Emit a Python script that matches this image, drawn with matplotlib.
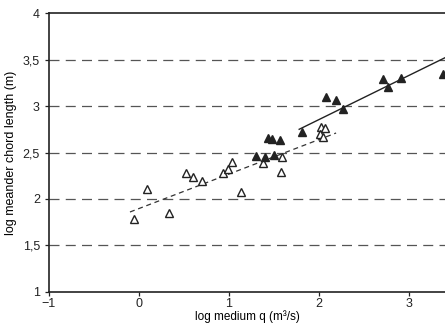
import matplotlib
matplotlib.use("Agg")
import matplotlib.pyplot as plt
import numpy as np
from matplotlib.ticker import FuncFormatter

plt.rcParams['font.family'] = ['Liberation Sans Narrow', 'Liberation Sans', 'DejaVu Sans']

# open triangles
open_x = [-0.05, 0.09, 0.33, 0.52, 0.60, 0.70, 0.93, 0.99, 1.03, 1.13,
          1.38, 1.59, 1.58, 2.02, 2.07, 2.01, 2.04]
open_y = [1.79, 2.11, 1.85, 2.28, 2.24, 2.19, 2.28, 2.32, 2.40, 2.08,
          2.39, 2.45, 2.29, 2.77, 2.76, 2.70, 2.67]

# filled triangles
fill_x = [1.30, 1.40, 1.50, 1.43, 1.48, 1.57, 1.81, 2.08, 2.19, 2.27,
          2.71, 2.77, 2.91, 3.38]
fill_y = [2.46, 2.45, 2.47, 2.66, 2.65, 2.63, 2.72, 3.10, 3.06, 2.97,
          3.29, 3.20, 3.30, 3.35]

# regression lines (endpoints)
dash_x = [-0.10, 2.19]
dash_y = [1.86, 2.71]
solid_x = [1.78, 3.40]
solid_y = [2.75, 3.52]

grid_levels = [1.5, 2, 2.5, 3, 3.5]

fig = plt.figure(figsize=(4.45, 3.28), dpi=100)
ax = fig.add_axes([0.110, 0.110, 0.89, 0.85])

for g in grid_levels:
    ax.axhline(g, color='#555555', lw=0.9, ls=(0, (8, 5)), zorder=1)

ax.plot(dash_x, dash_y, color='#333333', lw=0.9, ls=(0, (4, 3)), zorder=2)
ax.plot(solid_x, solid_y, color='#222222', lw=1.0, zorder=2)

ax.plot(open_x, open_y, ls='none', marker='^', ms=6, mfc='white',
        mec='#222222', mew=1.0, zorder=3)
ax.plot(fill_x, fill_y, ls='none', marker='^', ms=6, mfc='#222222',
        mec='#222222', mew=1.0, zorder=3)

ax.set_xlim(-1, 3.4)
ax.set_ylim(1, 4)
ax.set_xticks([-1, 0, 1, 2, 3])
ax.set_yticks([1, 1.5, 2, 2.5, 3, 3.5, 4])


def comma_fmt(v, pos):
    s = ('%g' % v).replace('.', ',')
    return s.replace('-', '\u2212')


ax.xaxis.set_major_formatter(FuncFormatter(comma_fmt))
ax.yaxis.set_major_formatter(FuncFormatter(comma_fmt))

ax.spines['right'].set_visible(False)
for s in ['left', 'bottom', 'top']:
    ax.spines[s].set_linewidth(1.2)
    ax.spines[s].set_color('#222222')

ax.tick_params(direction='out', length=3, width=0.9, labelsize=9, colors='#222222')
ax.tick_params(axis='x', pad=1.5)
ax.set_xlabel('log medium q (m\u00b3/s)', fontsize=8.5, labelpad=0)
ax.set_ylabel('log meander chord length (m)', fontsize=9, labelpad=4)

fig.savefig('out.png', dpi=100)
